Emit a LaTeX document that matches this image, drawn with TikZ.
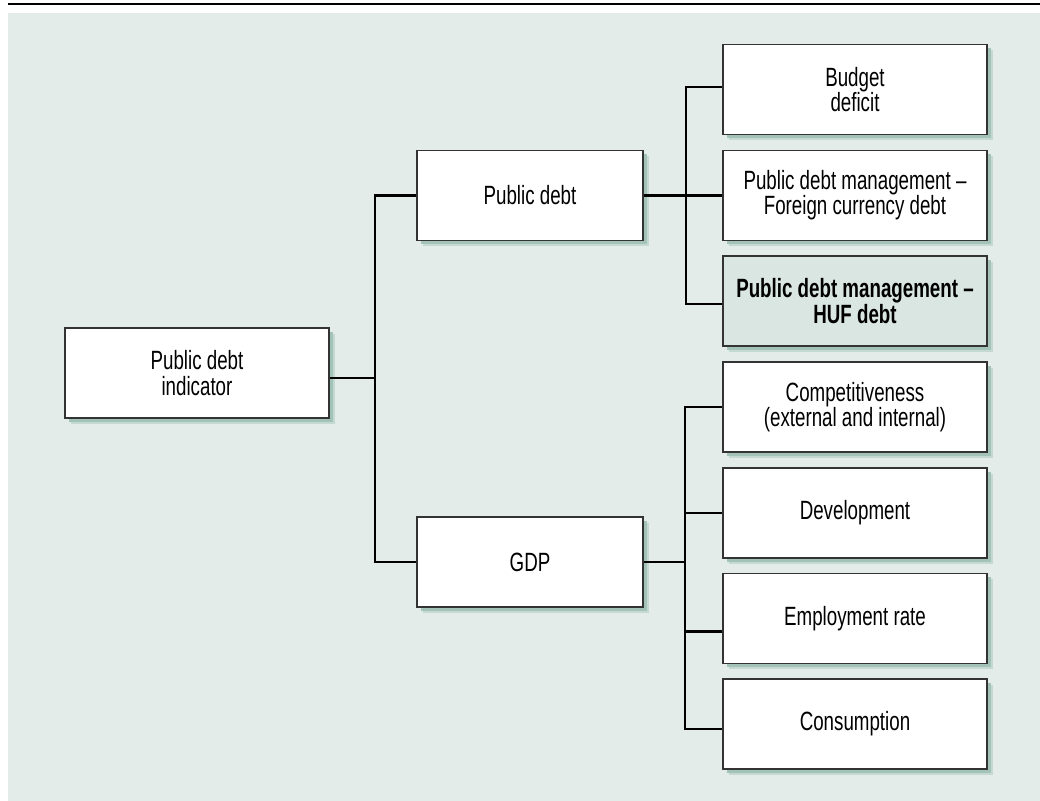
\documentclass[tikz,border=0pt]{standalone}
\usepackage{fontspec}
\setmainfont{Liberation Sans}[FakeStretch=0.71]
\usetikzlibrary{shadows}

\definecolor{bgcol}{HTML}{E3ECE9}
\definecolor{hufcol}{HTML}{D9E6E1}
\definecolor{boxline}{HTML}{333333}
\definecolor{shadeA}{HTML}{C4D9D2}
\definecolor{shadeB}{HTML}{A3C3B9}

\tikzset{
  box/.style={draw=boxline, fill=white, line width=0.6pt, align=center,
    minimum width=132pt, minimum height=45pt, inner sep=2pt,
    font=\fontsize{13.2}{12.6}\selectfont,
    drop shadow={shadow xshift=3pt, shadow yshift=-3pt, fill=shadeA, opacity=1},
    drop shadow={shadow xshift=2pt, shadow yshift=-2pt, fill=shadeB, opacity=1}},
  midbox/.style={box, minimum width=113pt},
  conn/.style={line width=1.25pt, black}
}

\begin{document}
\begin{tikzpicture}[x=0.5pt, y=-0.5pt]
            \useasboundingbox (0,0) rectangle (1040,801);
            \fill [bgcol] (8,13) rectangle (1040,801);
            \draw [line width=1pt] (8,4) -- (1040,4);
            % left and middle column
            \node [box] (ind) at (197,373) {Public debt\\indicator};
            \node [midbox] (pd) at (530,195.5) {Public debt};
            \node [midbox] (gdp) at (530,562) {GDP};
            % right column
            \node [box] (bud) at (855,89.5) {Budget\\deficit};
            \node [box] (fcd) at (855,195.5) {Public debt management --\\Foreign currency debt};
            \node [box, fill=hufcol, font=\fontsize{13.2}{12.6}\selectfont\bfseries] (huf) at (855,301) {Public debt management --\\HUF debt};
            \node [box] (comp) at (855,407) {Competitiveness\\(external and internal)};
            \node [box] (dev) at (855,513) {Development};
            \node [box] (emp) at (855,618.5) {Employment rate};
            \node [box] (cons) at (855,724) {Consumption};
            % connectors
            \coordinate (jA) at (375,378);
            \coordinate (jB) at (686,195.5);
            \coordinate (jC) at (685,562);
            \coordinate (empin) at ([yshift=-6.5pt]emp.west);
            \draw [conn] (ind.east |- jA) -- (jA);
            \draw [conn] (pd.west) -| (jA) |- (gdp.west);
            \draw [conn] (pd.east) -- (jB);
            \draw [conn] ([yshift=1.2pt]bud.west) -| (jB) |- ([yshift=-1.5pt]huf.west);
            \draw [conn] (jB) -- (fcd.west);
            \draw [conn] (gdp.east) -- (jC);
            \draw [conn] (comp.west) -| (jC) |- ([yshift=-2.5pt]cons.west);
            \draw [conn] (jC |- dev.west) -- (dev.west);
            \draw [conn] (jC |- empin) -- (empin);
            \end{tikzpicture}
\end{document}
